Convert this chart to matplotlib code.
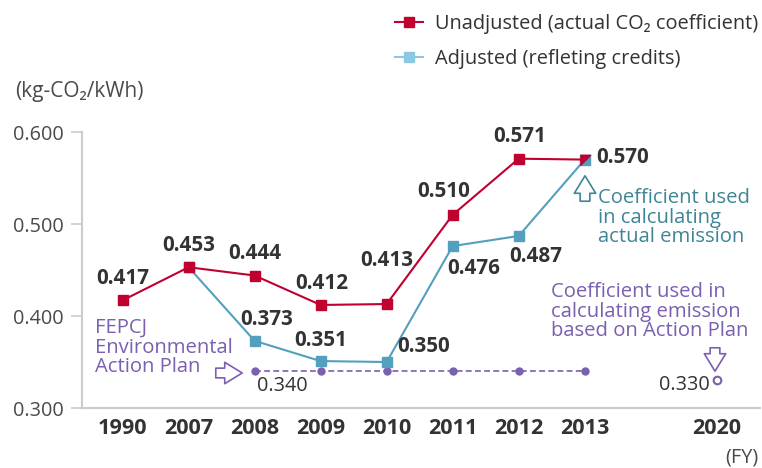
import matplotlib
matplotlib.use("Agg")
import matplotlib.pyplot as plt
from matplotlib.lines import Line2D
from matplotlib.patches import FancyArrowPatch

plt.rcParams['font.family'] = ['Open Sans', 'DejaVu Sans']

years = ['1990', '2007', '2008', '2009', '2010', '2011', '2012', '2013', '2020']
unadjusted = [0.417, 0.453, 0.444, 0.412, 0.413, 0.510, 0.571, 0.570]
adjusted = [0.453, 0.373, 0.351, 0.350, 0.476, 0.487, 0.570]   # 2007-2013
action_plan = [0.340, 0.340, 0.340, 0.340, 0.340, 0.340]        # 2008-2013
target_2020 = 0.330
yticks = [0.300, 0.400, 0.500, 0.600]

RED = '#C0002F'
TEAL = '#52A0BE'
TEAL_LEG = '#8CC8E2'
TEAL_TXT = '#3F8595'
PURPLE = '#7B5FB0'
DARK = '#333333'
TICKC = '#4A4A4A'
GRAY = '#CCCCCC'

xpos = list(range(8)) + [9]
x_un = xpos[:8]
x_adj = xpos[1:8]
x_ap = xpos[2:8]
x_2020 = xpos[8]

W, H = 762, 468
fig = plt.figure(figsize=(W/100, H/100), dpi=100)
ax = fig.add_axes([82/W, 1-408/H, (760-82)/W, (408-132)/H])
ax.set_xlim(-0.615, 9.655)
ax.set_ylim(0.300, 0.600)

for s in ['top', 'right']:
    ax.spines[s].set_visible(False)
for s in ['left', 'bottom']:
    ax.spines[s].set_color(GRAY)
    ax.spines[s].set_linewidth(1.5)

ax.set_yticks(yticks)
ax.set_yticklabels([f'{v:.3f}' for v in yticks], fontsize=14.3, color=TICKC)
ax.tick_params(axis='y', length=8, width=1.2, color=GRAY, pad=5)
ax.set_xticks(xpos)
ax.set_xticklabels(years, fontsize=15.6, fontweight='bold', color=DARK)
ax.tick_params(axis='x', length=0, pad=7)

# action plan dashed
ax.plot(x_ap, action_plan, color=PURPLE, lw=1.2, ls=(0, (3.5, 2)), marker='o', ms=5,
        zorder=2, clip_on=False)
ax.plot([x_2020], [target_2020], ls='none', marker='o', ms=5.5, mfc='white', mec=PURPLE,
        mew=1.5, zorder=3, clip_on=False)

# adjusted
ax.plot(x_adj, adjusted, color=TEAL, lw=1.5, marker='s', ms=7.5, zorder=3, clip_on=False)
# unadjusted
ax.plot(x_un, unadjusted, color=RED, lw=1.5, marker='s', ms=7.5, markevery=list(range(7)),
        zorder=4, clip_on=False)
tri = [(-1, 1), (1, 1), (-1, -1)]
ax.plot([x_un[-1]], [unadjusted[-1]], ls='none', marker=tri, ms=7.5, color=RED, zorder=5,
        clip_on=False)

VFS = 14.9
un_off = [(0, 22), (0, 22), (0, 22), (1, 21), (0, 44), (-9, 23), (1, 22), (38, 2)]
for x, v, (dx, dy) in zip(x_un, unadjusted, un_off):
    ax.annotate(f'{v:.3f}', (x, v), xytext=(dx, dy), textcoords='offset pixels',
                ha='center', va='center', fontsize=VFS, fontweight='bold', color=DARK,
                annotation_clip=False)
adj_off = [None, (12, 21), (0, 21), (37, 15), (21, -22), (17, -21), None]
for x, v, off in zip(x_adj, adjusted, adj_off):
    if off is None:
        continue
    ax.annotate(f'{v:.3f}', (x, v), xytext=off, textcoords='offset pixels',
                ha='center', va='center', fontsize=VFS, fontweight='bold', color=DARK,
                annotation_clip=False)
ax.annotate(f'{action_plan[0]:.3f}', (x_ap[0], action_plan[0]), xytext=(28, -15),
            textcoords='offset pixels', ha='center', va='center', fontsize=14.3, color=DARK,
            annotation_clip=False)
ax.annotate(f'{target_2020:.3f}', (x_2020, target_2020), xytext=(-32, -5),
            textcoords='offset pixels', ha='center', va='center', fontsize=14.3, color=DARK,
            annotation_clip=False)

# annotation texts
AFS = 14.6
fig.text(95/W, 1-318/H, 'FEPCJ\nEnvironmental\nAction Plan', color=PURPLE, fontsize=AFS,
         ha='left', va='top', linespacing=0.97)
fig.text(598/W, 1-188/H, 'Coefficient used\nin calculating\nactual emission', color=TEAL_TXT,
         fontsize=AFS, ha='left', va='top', linespacing=0.97)
fig.text(551/W, 1-282/H, 'Coefficient used in\ncalculating emission\nbased on Action Plan',
         color=PURPLE, fontsize=AFS, ha='left', va='top', linespacing=0.97)
fig.text(15/W, 1-92/H, '(kg-CO₂/kWh)', color=TICKC, fontsize=15, ha='left', va='center')
fig.text(759/W, 1-458/H, '(FY)', color=TICKC, fontsize=14.3, ha='right', va='center')

# hollow arrows
def hollow_arrow(xy_from, xy_to, color):
    fig.add_artist(FancyArrowPatch(
        (xy_from[0]/W, 1-xy_from[1]/H), (xy_to[0]/W, 1-xy_to[1]/H),
        transform=fig.transFigure,
        arrowstyle='simple,head_width=1.1,head_length=0.9,tail_width=0.5',
        mutation_scale=14, fc='white', ec=color, lw=1.2))

hollow_arrow((213, 373), (245, 373), PURPLE)
hollow_arrow((585, 204), (585, 173), TEAL_TXT)
hollow_arrow((715, 345), (715, 374), PURPLE)

# legend
handles = [Line2D([], [], color=RED, lw=1.5, marker='s', ms=7.5),
           Line2D([], [], color=TEAL_LEG, lw=1.5, marker='s', ms=7.5)]
labels = ['Unadjusted (actual CO₂ coefficient)', 'Adjusted (refleting credits)']
fig.legend(handles, labels, loc='upper left', bbox_to_anchor=(395/W, 1-14/H),
           frameon=False, fontsize=14.4, handlelength=1.4, handletextpad=0.6,
           labelspacing=0.75, borderpad=0, borderaxespad=0, labelcolor=DARK)

fig.savefig('out.png', dpi=100)
